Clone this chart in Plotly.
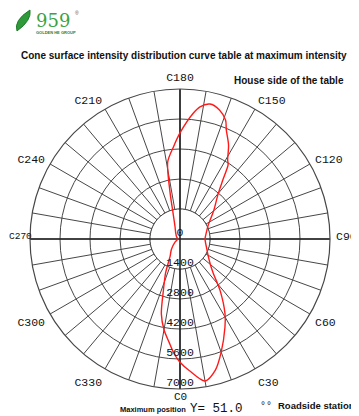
import plotly.graph_objects as go

# ---------------- data ----------------
C_ANGLES = [0, 4, 10, 15, 20, 27, 31, 38, 44, 50, 58, 70, 90, 105, 115, 130, 140,
            144, 147, 149, 152.7, 157, 159, 163, 167.5, 171.4, 174, 180, 184, 189,
            192, 195, 202, 215, 240, 270, 300, 320, 330, 337, 342, 346, 350, 354, 357]
INTENSITY = [5750, 6150, 6730, 6350, 5620, 4620, 4080, 3030, 2240, 1850, 1560, 1330,
             1170, 1280, 1440, 2050, 2780, 3400, 4120, 4320, 4940, 5530, 5940, 6300,
             6450, 6240, 5900, 4950, 4320, 3650, 2250, 1250, 620, 350, 180, 100, 250,
             620, 920, 1720, 2500, 3600, 4300, 4850, 5350]
RADIAL_TICKS = [0, 1400, 2800, 4200, 5600, 7000]
ANGLE_GRID = list(range(0, 360, 10))
EDGE_LABELS = [0, 90, 270]  # drawn as separate texts (close to the page edges)
ANGLE_LABELS = ["C%d" % a if (a % 30 == 0 and a not in EDGE_LABELS) else ""
                for a in ANGLE_GRID]
R_MAX = 7000
HOLE_R = 1400

W, H = 359, 416
OFF = 8  # page body margin compensation


def px(x, y):
    return (x - OFF) / W, 1 - (y - OFF) / H


GRID = "#474747"
MONO = "Liberation Mono"
SANS = "Liberation Sans"
NARROW = "Liberation Sans Narrow, Arial Narrow, Liberation Sans"

fig = go.Figure()

# white inner disc (hides spokes inside the first ring)
hole_theta = list(range(0, 361, 5))
fig.add_trace(go.Scatterpolar(theta=hole_theta, r=[HOLE_R] * len(hole_theta),
                              mode="lines", fill="toself", fillcolor="white",
                              line=dict(color=GRID, width=1), hoverinfo="skip",
                              showlegend=False))
# cross axes through the centre
fig.add_trace(go.Scatterpolar(theta=[0, 0, 180], r=[R_MAX, 0, R_MAX], mode="lines",
                              line=dict(color="#222", width=1.6), hoverinfo="skip",
                              showlegend=False))
fig.add_trace(go.Scatterpolar(theta=[90, 90, 270], r=[R_MAX, 0, R_MAX], mode="lines",
                              line=dict(color="#222", width=1.6), hoverinfo="skip",
                              showlegend=False))
# intensity curve
fig.add_trace(go.Scatterpolar(theta=C_ANGLES + [C_ANGLES[0]],
                              r=INTENSITY + [INTENSITY[0]], mode="lines",
                              line=dict(color="#ff1a1a", width=1.4, shape="spline",
                                        smoothing=0.8),
                              showlegend=False))
# radial tick labels along C0
fig.add_trace(go.Scatterpolar(theta=[0] * len(RADIAL_TICKS), r=RADIAL_TICKS,
                              mode="text", text=[str(v) for v in RADIAL_TICKS],
                              textposition="top center",
                              textfont=dict(family=MONO, size=11.5, color="#111"),
                              hoverinfo="skip", showlegend=False))

x0, y1 = px(30, 89)
x1, y0 = px(330, 389)

fig.update_layout(
    width=W, height=H,
    margin=dict(l=0, r=0, t=0, b=0),
    paper_bgcolor="white",
    polar=dict(
        domain=dict(x=[x0, x1], y=[y0, y1]),
        bgcolor="white",
        angularaxis=dict(rotation=270, direction="counterclockwise",
                         tickmode="array", tickvals=ANGLE_GRID, ticktext=ANGLE_LABELS,
                         showgrid=True, gridcolor=GRID, gridwidth=1,
                         showline=True, linecolor=GRID, linewidth=1.2,
                         ticks="outside", ticklen=3, tickcolor="rgba(0,0,0,0)",
                         tickfont=dict(family=MONO, size=11.5, color="#111")),
        radialaxis=dict(range=[0, R_MAX], tickmode="array", tickvals=RADIAL_TICKS[1:],
                        showticklabels=False, showline=False, ticks="",
                        showgrid=True, gridcolor=GRID, gridwidth=1),
    ),
)


def note(text, x, y, size, family=SANS, color="#111", anchor="center", bold=True):
    xx, yy = px(x, y)
    fig.add_annotation(text=("<b>%s</b>" % text) if bold else text, x=xx, y=yy,
                       xref="paper", yref="paper", showarrow=False, xanchor=anchor,
                       yanchor="middle", borderpad=0,
                       font=dict(family=family, size=size, color=color))


note("Cone surface intensity distribution curve table at maximum intensity", 184, 55, 10)
note("House side of the table", 289, 80, 10)
note("Maximum position", 187, 409, 7.5, family=NARROW, anchor="right")
note("Y= 51.0", 189, 409, 12.5, family=MONO, anchor="left", bold=False)
note("°°", 259, 406, 10, family=MONO, anchor="left", bold=False)
note("Roadside station", 316, 405, 9.5)
# edge angular labels
note("C0", 180, 397, 11, family=MONO, bold=False)
note("C90", 358, 236, 11.5, family=MONO, anchor="right", bold=False)
note("C270", OFF, 236, 9.5, family=MONO, anchor="left", bold=False)

# logo
lx0, ly0 = px(17, 31)
lx1, ly1 = px(30, 10)
fig.add_shape(type="path", xref="paper", yref="paper",
              path="M %f %f Q %f %f %f %f Q %f %f %f %f Z" % (
                  lx0, ly0, lx0 - 0.01, (ly0 + ly1) / 2, lx1, ly1,
                  lx1 + 0.005, (ly0 + ly1) / 2, lx0, ly0),
              fillcolor="#2e9a3a", line=dict(color="#1f7a2a", width=1))
note("959", 53, 20, 18, family="DejaVu Serif", color="#3aa33f", bold=False)
note("GOLDEN HE GROUP", 56, 32, 4, color="#2e7a30")
note("®", 77, 13, 5, color="#555", bold=False)

fig.write_html("out.html")
